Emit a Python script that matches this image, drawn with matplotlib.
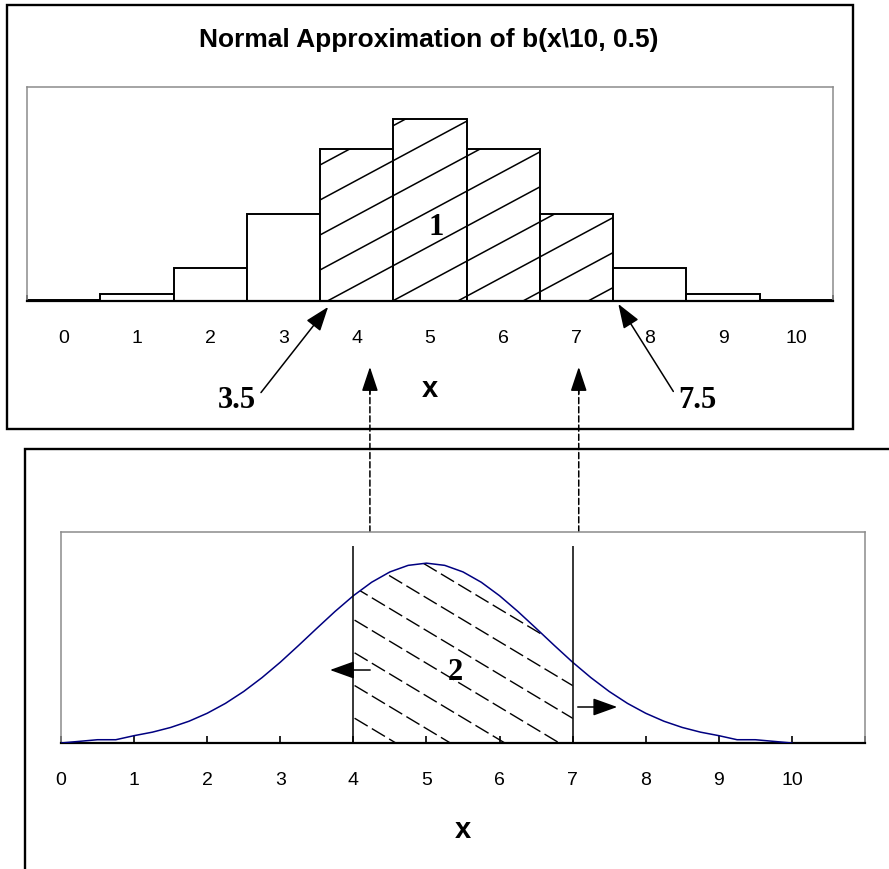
import numpy as np
import matplotlib
matplotlib.use('Agg')
import matplotlib.pyplot as plt
from matplotlib.patches import Rectangle, Polygon
from matplotlib.collections import LineCollection
from matplotlib.transforms import blended_transform_factory

plt.rcParams['font.family'] = ['Liberation Sans', 'DejaVu Sans']

# binomial b(x|10, 0.5)
x_vals = np.arange(11)
probs = [0.0010, 0.0098, 0.0439, 0.1172, 0.2051, 0.2461, 0.2051, 0.1172, 0.0439, 0.0098, 0.0010]
shade_bars = [4, 5, 6, 7]
tick_labels = [str(i) for i in range(11)]

# normal curve, mean 5, sd 1.58
curve_x = [0, 0.5, 0.75, 1.0, 1.25, 1.5, 1.75, 2.0, 2.25, 2.5, 2.75, 3.0, 3.25, 3.5, 3.75,
           4.0, 4.25, 4.5, 4.75, 5.0, 5.25, 5.5, 5.75, 6.0, 6.25, 6.5, 6.75, 7.0, 7.25,
           7.5, 7.75, 8.0, 8.25, 8.5, 8.75, 9.0, 9.25, 9.5, 10]
curve_y = [0.0, 0.0046, 0.0046, 0.0103, 0.0152, 0.0218, 0.0305, 0.0417, 0.0556, 0.0723,
           0.0917, 0.1133, 0.1368, 0.1609, 0.1846, 0.2066, 0.2255, 0.2400, 0.2492, 0.2523,
           0.2492, 0.2400, 0.2255, 0.2066, 0.1846, 0.1609, 0.1368, 0.1133, 0.0917, 0.0723,
           0.0556, 0.0417, 0.0305, 0.0218, 0.0152, 0.0103, 0.0046, 0.0046, 0.0]
area_lo, area_hi = 4, 7
cut_lo, cut_hi = 3.5, 7.5

W, H = 889, 870
fig = plt.figure(figsize=(W / 100, H / 100), dpi=100)


def frac_rect(left, top, right, bottom):
    return [left / W, 1 - bottom / H, (right - left) / W, (bottom - top) / H]


def hatch_segments(ax, through, slope, step, count=30):
    # parallel lines laid out in screen pixels, handed back in data units
    tr = ax.transData
    px0, py0 = tr.transform(through)
    bb = ax.bbox
    inv = tr.inverted()
    segs = []
    for k in range(-count, count + 1):
        ya = py0 + slope * (bb.x0 - px0) + k * step
        yb = py0 + slope * (bb.x1 - px0) + k * step
        segs.append(inv.transform([(bb.x0, ya), (bb.x1, yb)]))
    return segs


def style_frame(ax):
    for side in ['left', 'top', 'right']:
        ax.spines[side].set_color('#8c8c8c')
        ax.spines[side].set_linewidth(1.1)
    ax.spines['bottom'].set_color('black')
    ax.spines['bottom'].set_linewidth(1.6)
    ax.set_yticks([])


serif = dict(fontsize=22, fontweight='bold', family='Liberation Serif')

# outer boxes
fig.patches.append(Rectangle((7 / W, 1 - 430 / H), 846 / W, 424 / H, transform=fig.transFigure,
                             fill=False, lw=1.7, ec='black'))
fig.patches.append(Rectangle((25 / W, -0.05), 1.1, 1 - 450 / H + 0.05, transform=fig.transFigure,
                             fill=False, lw=1.7, ec='black'))

# ---- top: histogram ----
ax1 = fig.add_axes(frac_rect(27, 88, 833, 302))
bars = ax1.bar(x_vals, probs, width=1.0, color='white', edgecolor='black', linewidth=1.4, zorder=2)
ax1.set_xlim(-0.5, 10.5)
ax1.set_ylim(0, 0.289)
style_frame(ax1)
ax1.set_xticks(x_vals, tick_labels)
ax1.tick_params(axis='x', length=0, pad=20, labelsize=14)
ax1.set_xticks([-0.5, 10.5], minor=True)
ax1.tick_params(axis='x', which='minor', direction='in', length=4.5, width=1.2)

segs = hatch_segments(ax1, (3.6, 0.0), 0.537, 35)
for i in shade_bars:
    lc = LineCollection(segs, colors='black', linewidths=1.1, zorder=3)
    ax1.add_collection(lc, autolim=False)
    lc.set_clip_path(bars[i])

ax1.text(5.08, 0.0905, '1', ha='center', va='baseline', zorder=5, **serif)
ax1.text(0.5, -0.444, 'x', transform=ax1.transAxes, ha='center', va='baseline',
         fontsize=21, fontweight='bold')

head = '-|>,head_length=0.75,head_width=0.27'
ax1.annotate('3.5', xy=(cut_lo + 0.11, -0.008), xytext=(2.36, -0.143), ha='center', va='baseline',
             annotation_clip=False, **serif,
             arrowprops=dict(arrowstyle=head, mutation_scale=20, color='black', lw=1.1,
                             relpos=(1.0, 0.5), shrinkA=3, shrinkB=0))
ax1.annotate('7.5', xy=(cut_hi + 0.07, -0.004), xytext=(8.65, -0.143), ha='center', va='baseline',
             annotation_clip=False, **serif,
             arrowprops=dict(arrowstyle=head, mutation_scale=20, color='black', lw=1.1,
                             relpos=(0.0, 0.5), shrinkA=3, shrinkB=0))

fig.text(429 / W, 1 - 47 / H, 'Normal Approximation of b(x\\10, 0.5)', ha='center', va='baseline',
         fontsize=19, fontweight='bold')

# ---- bottom: normal curve ----
ax2 = fig.add_axes(frac_rect(61, 533, 865, 744))
ax2.set_xlim(0, 11)
ax2.set_ylim(0, 0.296)
style_frame(ax2)
ax2.plot(curve_x, curve_y, color='#000080', lw=1.1, zorder=4)

area_pts = [(x, y) for x, y in zip(curve_x, curve_y) if area_lo <= x <= area_hi]
area_pts += [(area_hi, 0), (area_lo, 0)]
area = Polygon(area_pts, closed=True, facecolor='none', edgecolor='none')
ax2.add_patch(area)
lc2 = LineCollection(hatch_segments(ax2, (3.99, 0.174), -0.6, 32.7), colors='black',
                     linewidths=1.0, linestyles=[(0, (11, 3.5))], zorder=3)
ax2.add_collection(lc2, autolim=False)
lc2.set_clip_path(area)

ax2.vlines([area_lo, area_hi], 0, 0.276, colors='black', lw=1.1, zorder=5)

ax2.set_xticks(np.arange(12), tick_labels + [''])
ax2.tick_params(axis='x', direction='in', length=5, width=1.2, pad=20, labelsize=14)
ax2.text(0.5, -0.4455, 'x', transform=ax2.transAxes, ha='center', va='baseline',
         fontsize=21, fontweight='bold')
ax2.text(5.39, 0.0898, '2', ha='center', va='baseline', zorder=6, **serif)

ax2.annotate('', xy=(3.68, 0.1024), xytext=(4.23, 0.1024), annotation_clip=False,
             arrowprops=dict(arrowstyle=head, mutation_scale=20, color='black', lw=1.1,
                             shrinkA=0, shrinkB=0))
ax2.annotate('', xy=(7.61, 0.0505), xytext=(7.07, 0.0505), annotation_clip=False,
             arrowprops=dict(arrowstyle=head, mutation_scale=20, color='black', lw=1.1,
                             shrinkA=0, shrinkB=0))

# dashed links from the lower panel up to the histogram, solid heads on top
link = blended_transform_factory(ax1.transData, ax2.transAxes)
for xl in [4.18, 7.03]:
    ax1.annotate('', xy=(xl, -0.12), xycoords='data', xytext=(xl, 1.0), textcoords=link,
                 annotation_clip=False,
                 arrowprops=dict(arrowstyle='-', color='black', lw=1.1,
                                 linestyle=(0, (4, 2)), shrinkA=0, shrinkB=0))
    ax1.annotate('', xy=(xl, -0.089), xytext=(xl, -0.125), annotation_clip=False,
                 arrowprops=dict(arrowstyle='-|>,head_length=0.75,head_width=0.25',
                                 mutation_scale=20, color='black', lw=1.1,
                                 shrinkA=0, shrinkB=0))

fig.savefig('out.png', dpi=100)
